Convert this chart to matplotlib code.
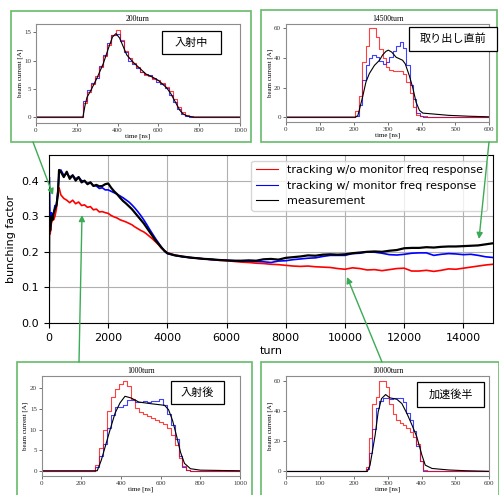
import numpy as np
import matplotlib.pyplot as plt
from matplotlib.patches import Rectangle, FancyArrowPatch

# ---------------- main chart data: bunching factor vs turn ----------------
turn = np.concatenate([[0, 10, 40, 80, 120, 160, 200, 250, 300, 340],
                       np.arange(400, 4001, 100), np.arange(4250, 15001, 250)])

bf_meas = ([0.12, 0.30, 0.26, 0.30, 0.29, 0.31, 0.32, 0.33, 0.36, 0.43]
           + [0.425, 0.41, 0.425, 0.405, 0.415, 0.40, 0.41, 0.395, 0.40, 0.39,
              0.395, 0.385, 0.388, 0.384, 0.385, 0.39, 0.392, 0.38, 0.37, 0.362, 0.352,
              0.343, 0.336, 0.328, 0.32, 0.31, 0.30, 0.29, 0.28, 0.268, 0.256, 0.244,
              0.232, 0.222, 0.212, 0.203, 0.196]
           + [0.19, 0.187, 0.184, 0.182, 0.18, 0.179, 0.177, 0.176, 0.175, 0.175,
              0.176, 0.175, 0.179, 0.18, 0.178, 0.183, 0.185, 0.187, 0.19, 0.189,
              0.192, 0.193, 0.192, 0.193, 0.196, 0.198, 0.2, 0.201, 0.2, 0.203,
              0.205, 0.21, 0.211, 0.211, 0.213, 0.212, 0.214, 0.215, 0.215, 0.216,
              0.217, 0.218, 0.221, 0.224])

bf_with = ([0.23, 0.41, 0.27, 0.31, 0.30, 0.31, 0.33, 0.33, 0.37, 0.42]
           + [0.43, 0.415, 0.42, 0.41, 0.415, 0.405, 0.41, 0.40, 0.398, 0.392,
              0.395, 0.386, 0.385, 0.378, 0.38, 0.374, 0.374, 0.37, 0.366, 0.362, 0.357,
              0.352, 0.346, 0.34, 0.332, 0.323, 0.313, 0.302, 0.29, 0.277, 0.263, 0.25,
              0.237, 0.225, 0.213, 0.202, 0.195]
           + [0.19, 0.186, 0.184, 0.182, 0.18, 0.178, 0.177, 0.176, 0.175, 0.174,
              0.174, 0.173, 0.172, 0.170, 0.174, 0.175, 0.178, 0.18, 0.182, 0.183,
              0.187, 0.19, 0.19, 0.19, 0.195, 0.196, 0.2, 0.199, 0.196, 0.192,
              0.191, 0.193, 0.196, 0.197, 0.197, 0.19, 0.193, 0.195, 0.194, 0.192,
              0.193, 0.19, 0.186, 0.184])

bf_without = ([0.22, 0.26, 0.25, 0.28, 0.29, 0.29, 0.30, 0.32, 0.37, 0.38]
              + [0.36, 0.35, 0.345, 0.338, 0.345, 0.335, 0.34, 0.33, 0.332, 0.325,
                 0.327, 0.318, 0.32, 0.312, 0.313, 0.31, 0.308, 0.302, 0.298, 0.295,
                 0.29, 0.287, 0.284, 0.28, 0.276, 0.27, 0.265, 0.26, 0.256, 0.25,
                 0.243, 0.236, 0.228, 0.22, 0.21, 0.203, 0.197]
              + [0.191, 0.187, 0.184, 0.182, 0.18, 0.178, 0.176, 0.175, 0.173, 0.171,
                 0.17, 0.168, 0.167, 0.165, 0.164, 0.162, 0.16, 0.159, 0.16, 0.158,
                 0.157, 0.156, 0.153, 0.151, 0.155, 0.153, 0.149, 0.15, 0.147, 0.15,
                 0.153, 0.154, 0.146, 0.146, 0.148, 0.145, 0.148, 0.152, 0.151, 0.154,
                 0.157, 0.16, 0.163, 0.165])

# ---------------- inset data: beam current [A] vs time [ns] ----------------
t_1000 = np.arange(0, 1001, 20)    # bin centres for the 1000 ns insets
t_600 = np.arange(0, 601, 10)      # bin centres for the 600 ns insets

# 200turn
red_200 = [0]*12 + [2.5, 4.5, 5.8, 7.2, 8.8, 10.8, 12.8, 14.6, 15.4, 13.6, 11.8, 10.4,
                    9.6, 8.9, 8.0, 7.4, 7.3, 6.8, 6.5, 6.0, 5.4, 4.6, 3.2, 1.8, 0.9,
                    0.3, 0.1] + [0]*12
blue_200 = [0]*12 + [2.8, 4.8, 6.0, 7.0, 9.0, 11.0, 13.2, 14.5, 14.8, 13.5, 11.5, 10.0,
                     9.4, 8.7, 8.0, 7.7, 7.4, 7.0, 6.3, 5.8, 5.2, 4.0, 2.6, 1.4, 0.6,
                     0.2, 0.0] + [0]*12
blk_200_t = [0, 230, 240, 250, 270, 300, 330, 355, 375, 392, 410, 445, 480, 510,
             540, 570, 600, 640, 660, 675, 690, 705, 720, 740, 770, 1000]
blk_200 = [0, 0, 2.0, 3.5, 4.8, 7.0, 9.5, 12.2, 14.2, 14.8, 14.0, 11.0, 9.6, 8.6,
           7.6, 7.1, 6.5, 5.2, 4.2, 3.2, 2.2, 1.2, 0.6, 0.2, 0, 0]

# 1000turn
red_1000 = [0]*14 + [1.5, 5.5, 10.0, 14.5, 17.9, 19.8, 21.0, 21.7, 20.5, 17.5, 15.3,
                     14.3, 13.8, 13.2, 12.8, 12.3, 11.8, 11.4, 10.5, 8.8, 6.2, 3.2,
                     1.2, 0.3, 0.0] + [0]*12
blue_1000 = [0]*14 + [1.0, 3.5, 6.5, 10.5, 13.5, 15.5, 15.6, 16.0, 17.3, 17.2, 16.8,
                      16.6, 16.9, 16.8, 17.0, 17.0, 17.5, 16.0, 13.8, 11.2, 7.8, 3.5,
                      1.0, 0.3, 0.0] + [0]*12
blk_1000_t = [0, 280, 300, 320, 345, 370, 395, 420, 450, 490, 550, 620, 640, 660,
              680, 700, 720, 750, 800, 1000]
blk_1000 = [0, 0, 2.5, 5.8, 10, 14, 16.5, 18.1, 17.7, 16.7, 16.3, 15.9, 14.8, 12.2,
            8.5, 4.5, 1.8, 0.5, 0.15, 0]

# 10000turn
red_10000 = [0]*21 + [0, 0, 0, 3, 22, 45, 49.5, 60, 60, 56, 45, 38, 34, 32, 30.5,
                      28.5, 26.5, 23, 18, 7, 1, 0] + [0]*18
blue_10000 = [0]*21 + [0, 0, 0, 1.5, 12, 28, 42, 47, 49, 48.5, 48, 48.5, 49, 48.5,
                       46, 39, 34, 27, 17, 7, 0.5, 0] + [0]*18
blk_10000_t = [0, 240, 248, 263, 272, 282, 294, 307, 327, 342, 357, 372, 386, 401,
               411, 431, 480, 530, 600]
blk_10000 = [0, 0, 4.2, 24, 39.5, 48.3, 51, 48.8, 47.9, 45, 38.4, 30.7, 23, 10.9,
             4.2, 2, 1, 0.5, 0.1]

# 14500turn
red_14500 = [0]*21 + [4, 14, 37, 48, 60, 60, 54, 46, 40, 34, 32, 31.5, 31, 31, 29.5,
                      24, 16, 7, 1.5, 0.5, 0.5, 0.3] + [0]*18
blue_14500 = [0]*21 + [1, 8, 25, 35, 40, 42, 41, 38, 36, 37, 41, 45, 48, 51, 47, 35,
                       22, 12, 3, 0.5, 0, 0] + [0]*18
blk_14500_t = [0, 205, 212, 216, 226, 236, 246, 261, 276, 285, 295, 302, 312, 325,
               344, 352, 364, 374, 384, 394, 404, 440, 480, 540, 600]
blk_14500 = [0, 0, 1, 4.5, 13.6, 23.8, 29.5, 35, 38.5, 42, 44.5, 45.3, 44, 40.5,
             38.5, 36, 28, 20, 10, 4.5, 2.7, 2, 1.2, 0.6, 0.2]

W, H = 499, 495
fig = plt.figure(figsize=(W/100, H/100), dpi=100)


def frac(left, top, right, bottom):
    # pixel box -> figure fraction [x0, y0, w, h]
    return [left/W, 1 - bottom/H, (right - left)/W, (bottom - top)/H]


# ---------------- main axes ----------------
ax = fig.add_axes(frac(49, 155, 493, 323))
ax.plot(turn, bf_without, color='red', lw=1.2, label='tracking w/o monitor freq response')
ax.plot(turn, bf_with, color='blue', lw=1.2, label='tracking w/ monitor freq response')
ax.plot(turn, bf_meas, color='black', lw=1.6, label='measurement')
ax.set_xlim(0, 15000)
ax.set_ylim(0, 0.472)
ax.set_yticks([0.0, 0.1, 0.2, 0.3, 0.4])
ax.set_xticks(np.arange(0, 14001, 2000))
ax.grid(True, color='#b0b0b0', lw=0.8)
ax.tick_params(labelsize=8)
ax.set_xlabel('turn', fontsize=8, labelpad=2)
ax.set_ylabel('bunching factor', fontsize=8)
leg = ax.legend(loc='upper right', fontsize=8, handlelength=2.0, labelspacing=0.5)
for h in leg.get_lines():
    h.set_linewidth(0.8)

# ---------------- insets ----------------
serif = 'Liberation Serif'
green = '#66bb6a'
arrow_green = '#3cab55'


def inset(box, title, xlim, ylim, xticks, yticks):
    a = fig.add_axes(frac(*box))
    a.set_xlim(*xlim)
    a.set_ylim(*ylim)
    a.set_xticks(xticks)
    a.set_yticks(yticks)
    for s in a.spines.values():
        s.set_color('0.55')
        s.set_linewidth(0.8)
    a.tick_params(length=2, width=0.5, pad=1.5, labelsize=5, colors='0.2')
    for lab in a.get_xticklabels() + a.get_yticklabels():
        lab.set_fontfamily(serif)
    a.set_title(title, fontsize=5.5, family=serif, pad=2)
    a.set_xlabel('time [ns]', fontsize=5, family=serif, labelpad=0.5)
    a.set_ylabel('beam current [A]', fontsize=5, family=serif, labelpad=1)
    return a


a1 = inset((36, 24, 240, 122.7), '200turn', (0, 1000), (-1.0, 16.5),
           np.arange(0, 1001, 200), [0, 5, 10, 15])
a1.step(t_1000, blue_200, where='mid', color='blue', alpha=0.75, lw=0.8)
a1.step(t_1000, red_200, where='mid', color='red', alpha=0.75, lw=0.8)
a1.plot(blk_200_t, blk_200, color='black', lw=0.8)

a2 = inset((286, 24, 489.3, 121.7), '14500turn', (0, 600), (-3.1, 63),
           np.arange(0, 601, 100), [0, 20, 40, 60])
a2.step(t_600, blue_14500, where='mid', color='blue', alpha=0.75, lw=0.8)
a2.step(t_600, red_14500, where='mid', color='red', alpha=0.75, lw=0.8)
a2.plot(blk_14500_t, blk_14500, color='black', lw=0.8)

a3 = inset((41.7, 375.7, 240, 475.7), '1000turn', (0, 1000), (-1.2, 23.1),
           np.arange(0, 1001, 200), [0, 5, 10, 15, 20])
a3.step(t_1000, blue_1000, where='mid', color='blue', alpha=0.75, lw=0.8)
a3.step(t_1000, red_1000, where='mid', color='red', alpha=0.75, lw=0.8)
a3.plot(blk_1000_t, blk_1000, color='black', lw=0.8)

a4 = inset((286, 375.7, 489.3, 475.7), '10000turn', (0, 600), (-2.8, 63.5),
           np.arange(0, 601, 100), [0, 20, 40, 60])
a4.step(t_600, blue_10000, where='mid', color='blue', alpha=0.75, lw=0.8)
a4.step(t_600, red_10000, where='mid', color='red', alpha=0.75, lw=0.8)
a4.plot(blk_10000_t, blk_10000, color='black', lw=0.8)


# green frames round the insets
def frame(left, top, right, bottom, **kw):
    x0, y0, w, h = frac(left, top, right, bottom)
    fig.add_artist(Rectangle((x0, y0), w, h, transform=fig.transFigure, **kw))


for b in [(11, 11, 251, 142), (261, 10, 497, 142), (17, 362, 252, 497), (261, 362, 499, 497)]:
    frame(*b, fill=False, ec=green, lw=1.2)

# labels in black boxes
labels = [('入射中', (162, 31, 221, 54)), ('取り出し直前', (409, 27, 497, 51)),
          ('入射後', (171, 381, 224, 404)), ('加速後半', (417, 382, 484, 407))]
for txt, b in labels:
    frame(*b, fc='white', ec='black', lw=0.9, zorder=3)
    fig.text((b[0] + b[2]) / 2 / W, 1 - (b[1] + b[3]) / 2 / H, txt, ha='center',
             va='center', fontsize=8, family=['Noto Sans CJK JP'], zorder=4)

# arrows from insets to the curve
for (xa, ya), (xb, yb) in [((33, 142), (53, 195)), ((489, 142), (479, 239)),
                           ((79, 362), (82, 215)), ((382, 362), (347, 277))]:
    fig.add_artist(FancyArrowPatch((xa/W, 1 - ya/H), (xb/W, 1 - yb/H),
                                   transform=fig.transFigure, arrowstyle='-|>',
                                   mutation_scale=9, color=arrow_green, lw=1.0,
                                   shrinkA=0, shrinkB=0, zorder=5))

fig.savefig('out.png', dpi=100)
